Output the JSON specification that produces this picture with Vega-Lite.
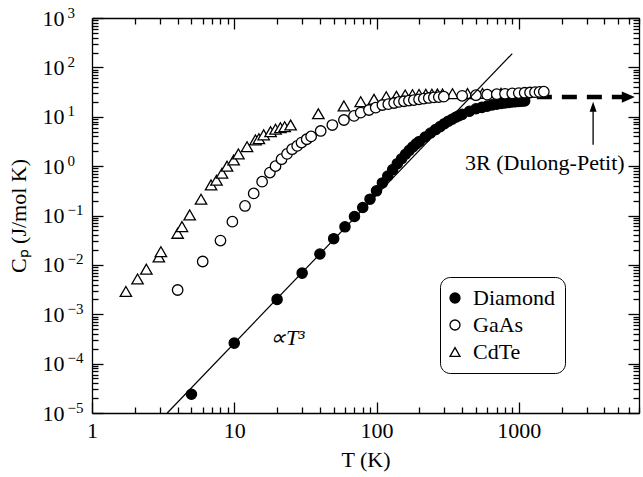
{
  "$schema": "https://vega.github.io/schema/vega-lite/v6.json",
  "autosize": {"type": "none"},
  "width": 547,
  "height": 395,
  "padding": {"left": 92, "top": 18, "right": 4, "bottom": 64},
  "background": "white",
  "datasets": {
    "diamond": [
      {"series":"Diamond","T":5,"Cp":0.000024},{"series":"Diamond","T":10,"Cp":0.00026},{"series":"Diamond","T":20,"Cp":0.002},{"series":"Diamond","T":30,"Cp":0.0068},
      {"series":"Diamond","T":40,"Cp":0.0166},{"series":"Diamond","T":50,"Cp":0.0339},{"series":"Diamond","T":60,"Cp":0.0589},{"series":"Diamond","T":70,"Cp":0.0955},
      {"series":"Diamond","T":80,"Cp":0.145},{"series":"Diamond","T":90,"Cp":0.214},{"series":"Diamond","T":100,"Cp":0.316},{"series":"Diamond","T":110,"Cp":0.457},
      {"series":"Diamond","T":120,"Cp":0.631},{"series":"Diamond","T":130,"Cp":0.851},{"series":"Diamond","T":140,"Cp":1.12},{"series":"Diamond","T":150,"Cp":1.41},
      {"series":"Diamond","T":160,"Cp":1.74},{"series":"Diamond","T":170,"Cp":2.09},{"series":"Diamond","T":180,"Cp":2.45},{"series":"Diamond","T":190,"Cp":2.82},
      {"series":"Diamond","T":200,"Cp":3.16},{"series":"Diamond","T":220,"Cp":3.89},{"series":"Diamond","T":240,"Cp":4.68},{"series":"Diamond","T":260,"Cp":5.5},
      {"series":"Diamond","T":280,"Cp":6.31},{"series":"Diamond","T":300,"Cp":7.24},{"series":"Diamond","T":320,"Cp":8.13},{"series":"Diamond","T":340,"Cp":8.91},
      {"series":"Diamond","T":360,"Cp":9.77},{"series":"Diamond","T":380,"Cp":10.5},{"series":"Diamond","T":400,"Cp":11.2},{"series":"Diamond","T":450,"Cp":12.9},
      {"series":"Diamond","T":500,"Cp":14.5},{"series":"Diamond","T":550,"Cp":15.5},{"series":"Diamond","T":600,"Cp":16.4},{"series":"Diamond","T":650,"Cp":17.4},
      {"series":"Diamond","T":700,"Cp":18.0},{"series":"Diamond","T":750,"Cp":18.6},{"series":"Diamond","T":800,"Cp":19.1},{"series":"Diamond","T":850,"Cp":19.5},
      {"series":"Diamond","T":900,"Cp":20.0},{"series":"Diamond","T":950,"Cp":20.2},{"series":"Diamond","T":1000,"Cp":20.4},{"series":"Diamond","T":1050,"Cp":20.7},
      {"series":"Diamond","T":1100,"Cp":20.9}
    ],
    "gaas": [
      {"series":"GaAs","T":4,"Cp":0.0031},{"series":"GaAs","T":6,"Cp":0.0117},{"series":"GaAs","T":8,"Cp":0.031},{"series":"GaAs","T":9.7,"Cp":0.075},
      {"series":"GaAs","T":11.9,"Cp":0.156},{"series":"GaAs","T":13.7,"Cp":0.28},{"series":"GaAs","T":15.7,"Cp":0.485},{"series":"GaAs","T":17.8,"Cp":0.74},
      {"series":"GaAs","T":19.5,"Cp":1.0},{"series":"GaAs","T":21.5,"Cp":1.38},{"series":"GaAs","T":23.5,"Cp":1.77},{"series":"GaAs","T":25.5,"Cp":2.2},
      {"series":"GaAs","T":27.7,"Cp":2.57},{"series":"GaAs","T":29.7,"Cp":3.0},{"series":"GaAs","T":32.3,"Cp":3.5},{"series":"GaAs","T":34.7,"Cp":4.0},
      {"series":"GaAs","T":40.5,"Cp":5.15},{"series":"GaAs","T":48.9,"Cp":6.8},{"series":"GaAs","T":59,"Cp":8.6},{"series":"GaAs","T":69.5,"Cp":10.4},
      {"series":"GaAs","T":77.4,"Cp":12.1},{"series":"GaAs","T":88.5,"Cp":13.7},{"series":"GaAs","T":98.7,"Cp":15.3},{"series":"GaAs","T":110,"Cp":17.3},
      {"series":"GaAs","T":121,"Cp":18.0},{"series":"GaAs","T":133,"Cp":19.0},{"series":"GaAs","T":144,"Cp":20.0},{"series":"GaAs","T":156,"Cp":20.6},
      {"series":"GaAs","T":169,"Cp":21.3},{"series":"GaAs","T":183,"Cp":21.8},{"series":"GaAs","T":199,"Cp":22.5},{"series":"GaAs","T":215,"Cp":23.2},
      {"series":"GaAs","T":233,"Cp":24.0},{"series":"GaAs","T":253,"Cp":24.6},{"series":"GaAs","T":274,"Cp":25.0},{"series":"GaAs","T":297,"Cp":25.5},
      {"series":"GaAs","T":400,"Cp":26.5},{"series":"GaAs","T":500,"Cp":27.3},{"series":"GaAs","T":600,"Cp":28.0},{"series":"GaAs","T":700,"Cp":28.6},
      {"series":"GaAs","T":800,"Cp":29.2},{"series":"GaAs","T":900,"Cp":29.7},{"series":"GaAs","T":1000,"Cp":30.2},{"series":"GaAs","T":1100,"Cp":30.6},
      {"series":"GaAs","T":1200,"Cp":31.0},{"series":"GaAs","T":1300,"Cp":31.4},{"series":"GaAs","T":1400,"Cp":31.8},{"series":"GaAs","T":1500,"Cp":32.2}
    ],
    "cdte": [
      {"series":"CdTe","T":1.73,"Cp":0.0029},{"series":"CdTe","T":2.09,"Cp":0.0052},{"series":"CdTe","T":2.41,"Cp":0.0082},{"series":"CdTe","T":2.95,"Cp":0.0145},
      {"series":"CdTe","T":3.05,"Cp":0.0185},{"series":"CdTe","T":4.0,"Cp":0.0436},{"series":"CdTe","T":4.29,"Cp":0.0596},{"series":"CdTe","T":4.86,"Cp":0.103},
      {"series":"CdTe","T":5.84,"Cp":0.214},{"series":"CdTe","T":6.87,"Cp":0.417},{"series":"CdTe","T":7.5,"Cp":0.52},{"series":"CdTe","T":8.2,"Cp":0.72},
      {"series":"CdTe","T":8.9,"Cp":1.0},{"series":"CdTe","T":9.9,"Cp":1.33},{"series":"CdTe","T":10.7,"Cp":1.77},{"series":"CdTe","T":12.3,"Cp":2.48},
      {"series":"CdTe","T":14.1,"Cp":3.4},{"series":"CdTe","T":14.9,"Cp":3.6},{"series":"CdTe","T":16.1,"Cp":4.3},{"series":"CdTe","T":18.0,"Cp":5.0},
      {"series":"CdTe","T":19.5,"Cp":5.6},{"series":"CdTe","T":21.1,"Cp":6.0},{"series":"CdTe","T":22.6,"Cp":6.3},{"series":"CdTe","T":24.9,"Cp":6.8},
      {"series":"CdTe","T":39,"Cp":11.5},{"series":"CdTe","T":59,"Cp":16.6},{"series":"CdTe","T":77.4,"Cp":20.2},{"series":"CdTe","T":96,"Cp":22.6},
      {"series":"CdTe","T":117,"Cp":25.5},{"series":"CdTe","T":138,"Cp":26.0},{"series":"CdTe","T":159,"Cp":27.6},{"series":"CdTe","T":179,"Cp":28.0},
      {"series":"CdTe","T":199,"Cp":28.3},{"series":"CdTe","T":222,"Cp":28.5},{"series":"CdTe","T":245,"Cp":28.7},{"series":"CdTe","T":268,"Cp":28.9},
      {"series":"CdTe","T":291,"Cp":29.0},{"series":"CdTe","T":342,"Cp":29.3},{"series":"CdTe","T":436,"Cp":29.5},{"series":"CdTe","T":556,"Cp":29.7},
      {"series":"CdTe","T":750,"Cp":29.9}
    ],
    "t3": [{"T":3.38,"Cp":0.00001},{"T":900,"Cp":190}],
    "dp": [{"T":1340,"Cp":25},{"T":5350,"Cp":25}],
    "arrowR": [{"T":5890,"Cp":25}],
    "vline": [{"T":3330,"Cp":2.7},{"T":3330,"Cp":16}],
    "vhead": [{"T":3330,"Cp":16}],
    "lbl1": [{"T":17.8,"Cp":0.00033,"label":"∝T³"}],
    "lbl2": [{"T":1525,"Cp":1.16,"label":"3R (Dulong-Petit)"}]
  },
  "resolve": {"axis": {"x": "independent", "y": "independent"}},
  "layer": [
    {
      "data": {"name": "dp"},
      "mark": {"type": "line", "stroke": "black", "strokeWidth": 4.5, "strokeDash": [15, 10], "strokeCap": "butt"},
      "encoding": {
        "x": {"field": "T", "type": "quantitative", "scale": {"type": "log", "domain": [1, 7000], "nice": false},
          "axis": {"orient": "bottom", "values": [1, 10, 100, 1000], "labelExpr": "format(datum.value, 'd')", "ticks": false, "domain": true, "labelPadding": 7, "title": "T (K)", "titlePadding": 8}},
        "y": {"field": "Cp", "type": "quantitative", "scale": {"type": "log", "domain": [0.00001, 1000], "nice": false},
          "axis": {"orient": "left", "values": [0.00001, 0.0001, 0.001, 0.01, 0.1, 1, 10, 100, 1000], "labelExpr": "'10'", "labelAlign": "left", "labelBaseline": "middle", "ticks": false, "domain": true, "labelPadding": 50, "title": "Cₚ (J/mol K)", "titlePadding": 12}}
      }
    },
    {
      "data": {"name": "diamond"},
      "mark": {"type": "point", "filled": true, "strokeWidth": 1.3, "opacity": 1, "size": 105},
      "encoding": {
        "x": {"field": "T", "type": "quantitative", "scale": {"type": "log", "domain": [1, 7000], "nice": false},
          "axis": {"orient": "bottom", "values": [1, 10, 100, 1000], "labels": false, "domain": false, "tickSize": -11, "title": null}},
        "y": {"field": "Cp", "type": "quantitative", "scale": {"type": "log", "domain": [0.00001, 1000], "nice": false},
          "axis": {"orient": "left", "values": [0.00001, 0.0001, 0.001, 0.01, 0.1, 1, 10, 100, 1000], "labelExpr": "['−5','−4','−3','−2','−1','0','1','2','3'][round(log(datum.value)/LN10)+5]", "labelFontSize": 15, "labelAlign": "left", "labelBaseline": "middle", "labelOffset": -6, "labelPadding": 25, "ticks": false, "domain": false, "title": null}},
        "shape": {"field": "series", "type": "nominal", "scale": {"domain": ["Diamond", "GaAs", "CdTe"], "range": ["circle", "circle", "triangle-up"]},
          "legend": {"orient": "none", "legendX": 348, "legendY": 259, "title": null, "strokeColor": "black", "cornerRadius": 10, "padding": 10, "fillColor": "white", "labelFont": "Liberation Serif", "labelFontSize": 22, "labelColor": "black", "labelOffset": 7, "symbolOffset": -6, "symbolSize": 100, "symbolStrokeWidth": 1.3, "rowPadding": 5}},
        "fill": {"field": "series", "type": "nominal", "scale": {"domain": ["Diamond", "GaAs", "CdTe"], "range": ["black", "white", "white"]},
          "legend": {"orient": "none", "legendX": 348, "legendY": 259, "title": null, "strokeColor": "black", "cornerRadius": 10, "padding": 10, "fillColor": "white", "labelFont": "Liberation Serif", "labelFontSize": 22, "labelColor": "black", "labelOffset": 7, "symbolOffset": -6, "symbolSize": 100, "symbolStrokeWidth": 1.3, "rowPadding": 5}},
        "stroke": {"field": "series", "type": "nominal", "scale": {"domain": ["Diamond", "GaAs", "CdTe"], "range": ["black", "black", "black"]},
          "legend": {"orient": "none", "legendX": 348, "legendY": 259, "title": null, "strokeColor": "black", "cornerRadius": 10, "padding": 10, "fillColor": "white", "labelFont": "Liberation Serif", "labelFontSize": 22, "labelColor": "black", "labelOffset": 7, "symbolOffset": -6, "symbolSize": 100, "symbolStrokeWidth": 1.3, "rowPadding": 5}}
      }
    },
    {
      "data": {"name": "cdte"},
      "mark": {"type": "point", "filled": true, "strokeWidth": 1.3, "opacity": 1, "size": 130},
      "encoding": {
        "x": {"field": "T", "type": "quantitative", "scale": {"type": "log", "domain": [1, 7000], "nice": false},
          "axis": {"orient": "bottom", "values": [2,3,4,5,6,7,8,9,20,30,40,50,60,70,80,90,200,300,400,500,600,700,800,900,2000,3000,4000,5000,6000,7000], "labels": false, "domain": false, "tickSize": -6, "title": null}},
        "y": {"field": "Cp", "type": "quantitative", "scale": {"type": "log", "domain": [0.00001, 1000], "nice": false},
          "axis": {"orient": "left", "values": [0.00001, 0.0001, 0.001, 0.01, 0.1, 1, 10, 100, 1000], "labels": false, "domain": false, "tickSize": -11, "title": null}},
        "shape": {"field": "series", "type": "nominal", "scale": {"domain": ["Diamond", "GaAs", "CdTe"], "range": ["circle", "circle", "triangle-up"]}},
        "fill": {"field": "series", "type": "nominal", "scale": {"domain": ["Diamond", "GaAs", "CdTe"], "range": ["black", "white", "white"]}},
        "stroke": {"field": "series", "type": "nominal", "scale": {"domain": ["Diamond", "GaAs", "CdTe"], "range": ["black", "black", "black"]}}
      }
    },
    {
      "data": {"name": "gaas"},
      "mark": {"type": "point", "filled": true, "strokeWidth": 1.3, "opacity": 1, "size": 110},
      "encoding": {
        "x": {"field": "T", "type": "quantitative", "scale": {"type": "log", "domain": [1, 7000], "nice": false},
          "axis": {"orient": "top", "values": [1, 10, 100, 1000], "labels": false, "domain": true, "tickSize": -11, "title": null}},
        "y": {"field": "Cp", "type": "quantitative", "scale": {"type": "log", "domain": [0.00001, 1000], "nice": false},
          "axis": {"orient": "left", "values": [0.00002,0.00003,0.00004,0.00005,0.00006,0.00007,0.00008,0.00009,0.0002,0.0003,0.0004,0.0005,0.0006,0.0007,0.0008,0.0009,0.002,0.003,0.004,0.005,0.006,0.007,0.008,0.009,0.02,0.03,0.04,0.05,0.06,0.07,0.08,0.09,0.2,0.3,0.4,0.5,0.6,0.7,0.8,0.9,2,3,4,5,6,7,8,9,20,30,40,50,60,70,80,90,200,300,400,500,600,700,800,900], "labels": false, "domain": false, "tickSize": -6, "title": null}},
        "shape": {"field": "series", "type": "nominal", "scale": {"domain": ["Diamond", "GaAs", "CdTe"], "range": ["circle", "circle", "triangle-up"]}},
        "fill": {"field": "series", "type": "nominal", "scale": {"domain": ["Diamond", "GaAs", "CdTe"], "range": ["black", "white", "white"]}},
        "stroke": {"field": "series", "type": "nominal", "scale": {"domain": ["Diamond", "GaAs", "CdTe"], "range": ["black", "black", "black"]}}
      }
    },
    {
      "data": {"name": "t3"},
      "mark": {"type": "line", "stroke": "black", "strokeWidth": 1.2},
      "encoding": {
        "x": {"field": "T", "type": "quantitative", "scale": {"type": "log", "domain": [1, 7000], "nice": false},
          "axis": {"orient": "top", "values": [2,3,4,5,6,7,8,9,20,30,40,50,60,70,80,90,200,300,400,500,600,700,800,900,2000,3000,4000,5000,6000,7000], "labels": false, "domain": false, "tickSize": -6, "title": null}},
        "y": {"field": "Cp", "type": "quantitative", "scale": {"type": "log", "domain": [0.00001, 1000], "nice": false},
          "axis": {"orient": "right", "values": [0.00001, 0.0001, 0.001, 0.01, 0.1, 1, 10, 100, 1000], "labels": false, "domain": true, "tickSize": -11, "title": null}}
      }
    },
    {
      "data": {"name": "arrowR"},
      "mark": {"type": "point", "filled": true, "fill": "black", "strokeWidth": 0, "opacity": 1, "size": 169, "shape": "M1,0L-1,-0.85L-1,0.85Z"},
      "encoding": {
        "x": {"field": "T", "type": "quantitative", "scale": {"type": "log", "domain": [1, 7000], "nice": false}, "axis": null},
        "y": {"field": "Cp", "type": "quantitative", "scale": {"type": "log", "domain": [0.00001, 1000], "nice": false},
          "axis": {"orient": "right", "values": [0.00002,0.00003,0.00004,0.00005,0.00006,0.00007,0.00008,0.00009,0.0002,0.0003,0.0004,0.0005,0.0006,0.0007,0.0008,0.0009,0.002,0.003,0.004,0.005,0.006,0.007,0.008,0.009,0.02,0.03,0.04,0.05,0.06,0.07,0.08,0.09,0.2,0.3,0.4,0.5,0.6,0.7,0.8,0.9,2,3,4,5,6,7,8,9,20,30,40,50,60,70,80,90,200,300,400,500,600,700,800,900], "labels": false, "domain": false, "tickSize": -6, "title": null}}
      }
    },
    {
      "data": {"name": "vline"},
      "mark": {"type": "line", "stroke": "black", "strokeWidth": 1.3},
      "encoding": {
        "x": {"field": "T", "type": "quantitative", "scale": {"type": "log", "domain": [1, 7000], "nice": false}, "axis": null},
        "y": {"field": "Cp", "type": "quantitative", "scale": {"type": "log", "domain": [0.00001, 1000], "nice": false}, "axis": null}
      }
    },
    {
      "data": {"name": "vhead"},
      "mark": {"type": "point", "filled": true, "fill": "black", "strokeWidth": 0, "opacity": 1, "size": 100, "shape": "M0,-1L-0.7,1L0.7,1Z"},
      "encoding": {
        "x": {"field": "T", "type": "quantitative", "scale": {"type": "log", "domain": [1, 7000], "nice": false}, "axis": null},
        "y": {"field": "Cp", "type": "quantitative", "scale": {"type": "log", "domain": [0.00001, 1000], "nice": false}, "axis": null}
      }
    },
    {
      "data": {"name": "lbl1"},
      "mark": {"type": "text", "font": "Liberation Serif", "fontSize": 22, "fontStyle": "italic", "align": "left", "baseline": "middle", "color": "black"},
      "encoding": {
        "x": {"field": "T", "type": "quantitative", "scale": {"type": "log", "domain": [1, 7000], "nice": false}, "axis": null},
        "y": {"field": "Cp", "type": "quantitative", "scale": {"type": "log", "domain": [0.00001, 1000], "nice": false}, "axis": null},
        "text": {"field": "label"}
      }
    },
    {
      "data": {"name": "lbl2"},
      "mark": {"type": "text", "font": "Liberation Serif", "fontSize": 22, "align": "center", "baseline": "middle", "color": "black"},
      "encoding": {
        "x": {"field": "T", "type": "quantitative", "scale": {"type": "log", "domain": [1, 7000], "nice": false}, "axis": null},
        "y": {"field": "Cp", "type": "quantitative", "scale": {"type": "log", "domain": [0.00001, 1000], "nice": false}, "axis": null},
        "text": {"field": "label"}
      }
    }
  ],
  "config": {
    "view": {"stroke": null},
    "axis": {
      "labelFont": "Liberation Serif", "titleFont": "Liberation Serif", "labelFontSize": 22, "titleFontSize": 22,
      "labelColor": "black", "titleColor": "black", "tickColor": "black", "domainColor": "black",
      "tickWidth": 1.3, "domainWidth": 1.3, "grid": false, "labelFlush": false, "labelOverlap": false, "labelBound": false,
      "titleFontWeight": "normal"
    }
  }
}
